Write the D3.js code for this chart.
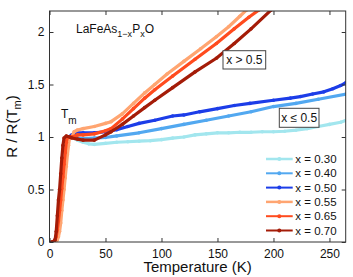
<!DOCTYPE html>
<html>
<head>
<meta charset="utf-8">
<script src="https://cdn.jsdelivr.net/npm/d3@7"></script>
<style>
  body { margin: 0; background: #fff; }
  text { font-family: "Liberation Sans", Arial, sans-serif; fill: #111; }
</style>
</head>
<body>
<script>
const W = 353, H = 277
const m = {left: 49.5, right: 7.3, top: 11, bottom: 35}

// series names and colours
const labels = ["x = 0.30", "x = 0.40", "x = 0.50", "x = 0.55", "x = 0.65", "x = 0.70"]
const colors = ["#a2e6ee", "#52a8f0", "#1c3de8", "#ffa571", "#ff4b1e", "#a41c08"]

// temperature (K) and R/R(Tm) for each curve
const t030 = [2, 4, 6, 7, 8, 9, 10, 11, 12, 13, 14, 15, 16, 17, 18, 20, 25, 30, 35, 40, 50, 60, 70, 80, 90, 100, 110, 120, 130, 140, 150, 160, 170, 180, 190, 200, 210, 220, 230, 240, 250, 260, 265]
const r030 = [0, 0, 0.02, 0.05, 0.12, 0.2, 0.3, 0.41, 0.52, 0.63, 0.75, 0.85, 0.93, 0.98, 1.0, 1.0, 0.97, 0.95, 0.935, 0.93, 0.94, 0.95, 0.955, 0.96, 0.965, 0.975, 0.99, 1.0, 1.02, 1.03, 1.04, 1.04, 1.045, 1.045, 1.05, 1.05, 1.055, 1.065, 1.08, 1.1, 1.12, 1.14, 1.16]

const t040 = [2, 4, 6, 7, 8, 9, 10, 11, 12, 13, 14, 15, 16, 17, 18, 20, 25, 30, 40, 50, 60, 80, 100, 120, 140, 160, 180, 200, 220, 240, 265]
const r040 = [0, 0, 0.02, 0.05, 0.11, 0.2, 0.3, 0.42, 0.54, 0.65, 0.76, 0.86, 0.94, 0.98, 1.0, 1.0, 0.99, 0.985, 0.99, 0.995, 1.01, 1.04, 1.08, 1.12, 1.16, 1.2, 1.24, 1.29, 1.32, 1.36, 1.41]

const t050 = [2, 4, 6, 7, 8, 9, 10, 11, 12, 13, 14, 15, 16, 17, 20, 25, 30, 40, 50, 60, 70, 80, 94, 110, 120, 134, 150, 165, 179, 200, 215, 224, 235, 245, 253, 260, 265]
const r050 = [0, 0, 0.04, 0.09, 0.15, 0.24, 0.33, 0.44, 0.55, 0.68, 0.8, 0.9, 0.97, 1.0, 1.02, 1.04, 1.04, 1.04, 1.05, 1.07, 1.1, 1.13, 1.16, 1.2, 1.21, 1.24, 1.27, 1.3, 1.32, 1.35, 1.37, 1.385, 1.41, 1.43, 1.46, 1.49, 1.52]

const t055 = [2, 4, 5, 7, 8, 9, 10, 11, 12, 13, 14, 15, 16, 17, 18, 20, 22, 25, 30, 40, 50, 55, 65, 75, 85, 94, 105, 120, 135, 149, 160, 170, 176]
const r055 = [0, 0, 0, 0.02, 0.05, 0.1, 0.18, 0.3, 0.4, 0.5, 0.61, 0.72, 0.83, 0.92, 1.0, 1.0, 1.05, 1.067, 1.08, 1.1, 1.13, 1.146, 1.22, 1.32, 1.42, 1.5, 1.6, 1.72, 1.84, 1.955, 2.05, 2.15, 2.21]

const t065 = [2, 4, 6, 7, 8, 9, 10, 11, 12, 13, 14, 15, 16, 18, 20, 25, 30, 40, 50, 55, 65, 75, 85, 94, 110, 130, 149, 165, 178, 187]
const r065 = [0, 0, 0.05, 0.12, 0.2, 0.3, 0.4, 0.51, 0.62, 0.74, 0.85, 0.95, 1.0, 1.0, 1.0, 1.02, 1.02, 1.03, 1.06, 1.08, 1.17, 1.27, 1.37, 1.45, 1.58, 1.74, 1.89, 2.03, 2.14, 2.21]

const t070 = [2, 3, 5, 6, 7, 8, 9, 10, 11, 12, 13, 15, 18, 20, 25, 30, 40, 50, 55, 65, 75, 85, 94, 110, 130, 149, 165, 180, 198]
const r070 = [0, 0, 0.02, 0.1, 0.25, 0.4, 0.5, 0.65, 0.8, 0.92, 0.99, 1.01, 1.0, 0.99, 0.98, 0.97, 0.97, 1.02, 1.05, 1.12, 1.2, 1.28, 1.35, 1.47, 1.62, 1.75, 1.89, 2.03, 2.21]

const temps = [t030, t040, t050, t055, t065, t070]
const ratios = [r030, r040, r050, r055, r065, r070]

const xTicks = [0, 50, 100, 150, 200, 250]
const yTicks = [0, 0.5, 1, 1.5, 2]

const svg = d3.select("body").append("svg")
  .attr("width", W).attr("height", H)

const x = d3.scaleLinear().domain([0, 264.5]).range([m.left, W - m.right])
const y = d3.scaleLinear().domain([0, 2.2]).range([H - m.bottom, m.top])

svg.append("clipPath").attr("id", "clip")
  .append("rect")
  .attr("x", m.left).attr("y", m.top)
  .attr("width", W - m.right - m.left).attr("height", H - m.bottom - m.top)

// curves
const line = d3.line().x(d => x(d[0])).y(d => y(d[1]))
const plot = svg.append("g").attr("clip-path", "url(#clip)")
temps.forEach((ts, i) => {
  const pts = ts.map((t, j) => [t, ratios[i][j]])
  const g = plot.append("g")
  g.append("path")
    .attr("d", line(pts))
    .attr("fill", "none")
    .attr("stroke", colors[i])
    .attr("stroke-width", 3.2)
    .attr("stroke-linejoin", "round")
  g.selectAll("circle").data(pts).enter().append("circle")
    .attr("cx", d => x(d[0])).attr("cy", d => y(d[1]))
    .attr("r", 1.8)
    .attr("fill", colors[i])
})

// axes with inward ticks, mirrored on top/right
const fmt = d => String(d)
const ax = svg.append("g")
ax.append("g").attr("transform", `translate(0,${H - m.bottom})`)
  .call(d3.axisBottom(x).tickValues(xTicks).tickSizeInner(-4).tickSizeOuter(0).tickPadding(7).tickFormat(fmt))
ax.append("g").attr("transform", `translate(0,${m.top})`)
  .call(d3.axisTop(x).tickValues(xTicks).tickSizeInner(-4).tickSizeOuter(0).tickFormat(""))
ax.append("g").attr("transform", `translate(${m.left},0)`)
  .call(d3.axisLeft(y).tickValues(yTicks).tickSizeInner(-4).tickSizeOuter(0).tickPadding(5).tickFormat(fmt))
ax.append("g").attr("transform", `translate(${W - m.right},0)`)
  .call(d3.axisRight(y).tickValues(yTicks).tickSizeInner(-4).tickSizeOuter(0).tickFormat(""))
ax.selectAll(".domain").remove()
ax.selectAll("line").attr("stroke", "#333")
ax.selectAll("text").attr("fill", "#111").attr("font-size", 12)
  .attr("font-family", "Liberation Sans, Arial, sans-serif")

svg.append("rect")
  .attr("x", m.left).attr("y", m.top)
  .attr("width", W - m.right - m.left).attr("height", H - m.bottom - m.top)
  .attr("fill", "none").attr("stroke", "#333").attr("stroke-width", 1)

// axis titles
svg.append("text")
  .attr("x", (m.left + W - m.right) / 2).attr("y", 272)
  .attr("text-anchor", "middle").attr("font-size", 15)
  .text("Temperature (K)")

const yl = svg.append("text")
  .attr("transform", `translate(17,${(m.top + H - m.bottom) / 2}) rotate(-90)`)
  .attr("text-anchor", "middle").attr("font-size", 15)
yl.append("tspan").text("R / R(T")
yl.append("tspan").attr("font-size", 11).attr("dy", 4).text("m")
yl.append("tspan").attr("dy", -4).text(")")

// compound name
const ttl = svg.append("text").attr("x", 76).attr("y", 33).attr("font-size", 12)
ttl.append("tspan").text("LaFeAs")
ttl.append("tspan").attr("font-size", 9).attr("dy", 4).text("1−x")
ttl.append("tspan").attr("dy", -4).text("P")
ttl.append("tspan").attr("font-size", 9).attr("dy", 4).text("x")
ttl.append("tspan").attr("dy", -4).text("O")

// T_m marker
const tm = svg.append("text").attr("x", 61).attr("y", 117.5).attr("font-size", 12)
tm.append("tspan").text("T")
tm.append("tspan").attr("font-size", 10).attr("dy", 6).text("m")

// group boxes
const boxes = [
  {text: "x > 0.5", x0: 223, y0: 50.7, w: 42.7, h: 18.3},
  {text: "x ≤ 0.5", x0: 279.3, y0: 108.3, w: 39.7, h: 19}
]
boxes.forEach(b => {
  svg.append("rect").attr("x", b.x0).attr("y", b.y0).attr("width", b.w).attr("height", b.h)
    .attr("fill", "#fff").attr("stroke", "#444").attr("stroke-width", 1)
  svg.append("text").attr("x", b.x0 + b.w / 2).attr("y", b.y0 + b.h / 2 + 4.3)
    .attr("text-anchor", "middle").attr("font-size", 12).text(b.text)
})

// legend
const leg = svg.append("g")
labels.forEach((lab, i) => {
  const ly = 159 + i * 14.3
  leg.append("line").attr("x1", 266).attr("x2", 292.7).attr("y1", ly).attr("y2", ly)
    .attr("stroke", colors[i]).attr("stroke-width", i === 0 || i === 3 ? 2.5 : 2)
  leg.append("circle").attr("cx", 279.3).attr("cy", ly).attr("r", 2).attr("fill", colors[i])
  leg.append("text").attr("x", 295.3).attr("y", ly + 4).attr("font-size", 11.5).text(lab)
})
</script>
</body>
</html>
